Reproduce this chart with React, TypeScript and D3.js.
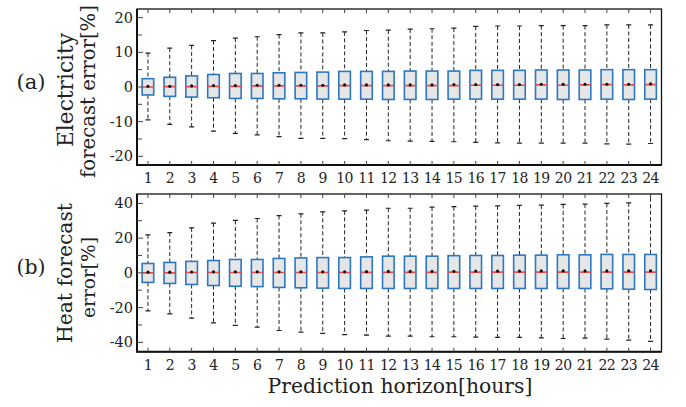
import React, { useRef, useEffect } from 'react';
import { select, scaleLinear, range } from 'd3';

const W = 686;
const H = 407;

const hours = range(1, 25);

// electricity forecast error [%]
const elecHi = [9.8, 11.2, 12.0, 13.4, 14.1, 14.5, 15.1, 15.6, 15.6, 15.9, 16.3, 16.4, 16.7, 16.8, 17.0, 17.5, 17.6, 17.6, 17.7, 17.7, 17.7, 17.9, 17.9, 17.9];
const elecQ3 = [2.4, 2.8, 3.2, 3.6, 3.9, 3.9, 4.1, 4.2, 4.3, 4.5, 4.5, 4.5, 4.6, 4.6, 4.6, 4.8, 4.8, 4.8, 4.9, 4.9, 4.9, 5.0, 5.0, 5.0];
const elecMed = [0.0, 0.1, 0.1, 0.2, 0.2, 0.3, 0.3, 0.3, 0.3, 0.4, 0.4, 0.4, 0.4, 0.4, 0.4, 0.5, 0.5, 0.5, 0.6, 0.5, 0.6, 0.7, 0.6, 0.7];
const elecMean = [0.2, 0.2, 0.3, 0.4, 0.4, 0.5, 0.5, 0.5, 0.5, 0.6, 0.6, 0.6, 0.6, 0.6, 0.7, 0.7, 0.7, 0.7, 0.8, 0.8, 0.8, 0.8, 0.8, 0.9];
const elecQ1 = [-2.3, -2.7, -2.9, -3.1, -3.3, -3.3, -3.4, -3.4, -3.5, -3.5, -3.5, -3.6, -3.6, -3.6, -3.5, -3.5, -3.5, -3.5, -3.5, -3.6, -3.6, -3.5, -3.6, -3.5];
const elecLo = [-9.5, -10.8, -11.5, -12.7, -13.4, -13.8, -14.3, -14.8, -14.8, -14.9, -15.2, -15.5, -15.6, -15.7, -15.8, -16.0, -16.1, -16.2, -16.2, -16.2, -16.2, -16.4, -16.5, -16.3];

// heat forecast error [%]
const heatHi = [21.9, 23.2, 25.9, 28.6, 30.2, 31.3, 33.0, 34.0, 35.1, 35.7, 36.1, 37.2, 37.2, 37.8, 38.1, 38.4, 38.6, 38.8, 39.0, 39.4, 39.6, 40.0, 40.3, 47.0];
const heatQ3 = [5.4, 6.0, 6.6, 7.1, 7.7, 7.7, 8.3, 8.6, 8.8, 8.8, 9.2, 9.6, 9.6, 9.6, 9.9, 10.0, 10.0, 10.2, 10.2, 10.4, 10.4, 10.6, 10.6, 10.6];
const heatMed = [0.0, 0.0, 0.2, 0.2, 0.2, 0.2, 0.2, 0.2, 0.2, 0.2, 0.3, 0.3, 0.3, 0.3, 0.4, 0.4, 0.4, 0.4, 0.4, 0.4, 0.4, 0.4, 0.4, 0.4];
const heatMean = [0.4, 0.4, 0.5, 0.6, 0.6, 0.6, 0.6, 0.6, 0.6, 0.6, 0.7, 0.8, 0.8, 0.8, 0.9, 1.0, 1.0, 1.0, 1.1, 1.1, 1.1, 1.1, 1.2, 1.2];
const heatQ1 = [-5.5, -6.1, -6.7, -7.3, -7.7, -7.9, -8.4, -8.6, -8.8, -9.0, -9.0, -9.0, -9.0, -9.0, -9.0, -9.0, -9.0, -9.0, -9.0, -9.0, -9.0, -9.2, -9.4, -9.6];
const heatLo = [-21.9, -23.6, -26.1, -28.8, -30.3, -31.3, -33.2, -34.1, -34.9, -35.6, -35.9, -36.4, -36.4, -36.8, -36.8, -37.0, -37.2, -37.2, -37.4, -37.8, -37.6, -38.2, -38.7, -39.5];

const elecTicks = [-20, -10, 0, 10, 20];
const elecMinor = [-15, -5, 5, 15];
const heatTicks = [-40, -20, 0, 20, 40];
const heatMinor = [-30, -10, 10, 30];

const FONT = '"DejaVu Serif", serif';

// shrink/grow a text node so it spans roughly the given width
const fit = (node, width) => {
    const len = node.getComputedTextLength();
    const fs = parseFloat(node.getAttribute('font-size'));
    if (len > 0) node.setAttribute('font-size', (fs * width / len).toFixed(2));
};

const panel = (svg, opt) => {
    const { top, bottom, left, right, domain, ticks, minor, hi, q3, med, mean, q1, lo, id } = opt;

    const x = scaleLinear().domain([0.5, 24.5]).range([left, right]);
    const y = scaleLinear().domain(domain).range([bottom, top]);
    const bw = (x(2) - x(1)) * 0.53;

    const g = svg.append('g');

    g.append('clipPath').attr('id', id)
        .append('rect')
        .attr('x', left).attr('y', top)
        .attr('width', right - left).attr('height', bottom - top);

    const boxes = g.append('g').attr('clip-path', `url(#${id})`)
        .selectAll('g').data(hours).enter().append('g');

    // whiskers
    boxes.append('line')
        .attr('x1', d => x(d)).attr('x2', d => x(d))
        .attr('y1', (d, i) => y(hi[i])).attr('y2', (d, i) => y(q3[i]))
        .attr('stroke', '#222').attr('stroke-width', 1).attr('stroke-dasharray', '4,2.5');
    boxes.append('line')
        .attr('x1', d => x(d)).attr('x2', d => x(d))
        .attr('y1', (d, i) => y(q1[i])).attr('y2', (d, i) => y(lo[i]))
        .attr('stroke', '#222').attr('stroke-width', 1).attr('stroke-dasharray', '4,2.5');
    // caps
    boxes.append('line')
        .attr('x1', d => x(d) - 2.5).attr('x2', d => x(d) + 2.5)
        .attr('y1', (d, i) => y(hi[i])).attr('y2', (d, i) => y(hi[i]))
        .attr('stroke', '#222').attr('stroke-width', 1.2);
    boxes.append('line')
        .attr('x1', d => x(d) - 2.5).attr('x2', d => x(d) + 2.5)
        .attr('y1', (d, i) => y(lo[i])).attr('y2', (d, i) => y(lo[i]))
        .attr('stroke', '#222').attr('stroke-width', 1.2);
    // box
    boxes.append('rect')
        .attr('x', d => x(d) - bw / 2).attr('width', bw)
        .attr('y', (d, i) => y(q3[i])).attr('height', (d, i) => y(q1[i]) - y(q3[i]))
        .attr('fill', '#e6e6e6').attr('stroke', '#2a78c4').attr('stroke-width', 1.6);
    // median
    boxes.append('line')
        .attr('x1', d => x(d) - bw / 2).attr('x2', d => x(d) + bw / 2)
        .attr('y1', (d, i) => y(med[i])).attr('y2', (d, i) => y(med[i]))
        .attr('stroke', '#eb4d4d').attr('stroke-width', 1.7);
    // mean
    boxes.append('circle')
        .attr('cx', d => x(d)).attr('cy', (d, i) => y(mean[i]))
        .attr('r', 1.6).attr('fill', '#111');

    // frame
    g.append('rect')
        .attr('x', left).attr('y', top)
        .attr('width', right - left).attr('height', bottom - top)
        .attr('fill', 'none').attr('stroke', '#111').attr('stroke-width', 1.3);
    g.append('path')
        .attr('d', `M${left},${top}V${bottom}H${right}`)
        .attr('fill', 'none').attr('stroke', '#111').attr('stroke-width', 2);

    // x ticks, top and bottom
    g.selectAll('.xt').data(hours).enter().append('path')
        .attr('d', d => `M${x(d)},${bottom}v-4M${x(d)},${top}v4`)
        .attr('stroke', '#444').attr('stroke-width', 1);
    g.selectAll('.xl').data(hours).enter().append('text')
        .attr('x', d => x(d)).attr('y', bottom + 18)
        .attr('text-anchor', 'middle')
        .attr('font-family', FONT).attr('font-size', 14).attr('fill', '#222')
        .attr('letter-spacing', -0.6)
        .text(d => d);

    // y ticks
    g.selectAll('.yt').data(ticks).enter().append('line')
        .attr('x1', left).attr('x2', left + 6)
        .attr('y1', d => y(d)).attr('y2', d => y(d))
        .attr('stroke', '#444').attr('stroke-width', 1);
    g.selectAll('.ym').data(minor).enter().append('line')
        .attr('x1', left).attr('x2', left + 5)
        .attr('y1', d => y(d)).attr('y2', d => y(d))
        .attr('stroke', '#444').attr('stroke-width', 1);
    g.selectAll('.yl').data(ticks).enter().append('text')
        .attr('x', left - 4).attr('y', d => y(d) + 5)
        .attr('text-anchor', 'end')
        .attr('font-family', FONT).attr('font-size', 14.5).attr('fill', '#222')
        .text(d => d);
};

const label = (svg, lines, tag, tagY) => {
    lines.forEach(([txt, bx, cy, w]) => {
        const t = svg.append('text')
            .attr('transform', `translate(${bx},${cy}) rotate(-90)`)
            .attr('text-anchor', 'middle')
            .attr('font-family', FONT).attr('font-size', 20).attr('fill', '#222')
            .text(txt);
        fit(t.node(), w);
    });
    const t = svg.append('text')
        .attr('x', 31).attr('y', tagY)
        .attr('text-anchor', 'middle')
        .attr('font-family', FONT).attr('font-size', 19).attr('fill', '#222')
        .text(tag);
    fit(t.node(), 29);
};

const App = () => {
    const ref = useRef();

    useEffect(() => {
        const svg = select(ref.current);
        svg.selectAll('*').remove();

        panel(svg, {
            id: 'clipA', top: 9, bottom: 165, left: 137, right: 661.5,
            domain: [-22.5, 22.5], ticks: elecTicks, minor: elecMinor,
            hi: elecHi, q3: elecQ3, med: elecMed, mean: elecMean, q1: elecQ1, lo: elecLo
        });
        panel(svg, {
            id: 'clipB', top: 194, bottom: 351.7, left: 137, right: 661.5,
            domain: [-45.4, 45.4], ticks: heatTicks, minor: heatMinor,
            hi: heatHi, q3: heatQ3, med: heatMed, mean: heatMean, q1: heatQ1, lo: heatLo
        });

        label(svg, [['Electricity', 73, 90, 114], ['forecast error[%]', 95, 91.5, 173]], '(a)', 89);
        label(svg, [['Heat forecast', 72, 273, 140], ['error[%]', 95, 277.5, 81]], '(b)', 274);

        const xl = svg.append('text')
            .attr('x', 400).attr('y', 393)
            .attr('text-anchor', 'middle')
            .attr('font-family', FONT).attr('font-size', 19).attr('fill', '#222')
            .text('Prediction horizon[hours]');
        fit(xl.node(), 265);
    }, []);

    return (
        <svg ref={ref} width={W} height={H}
            style={{ position: 'absolute', left: 0, top: 0, background: '#fff' }}></svg>
    );
};

export default App;
